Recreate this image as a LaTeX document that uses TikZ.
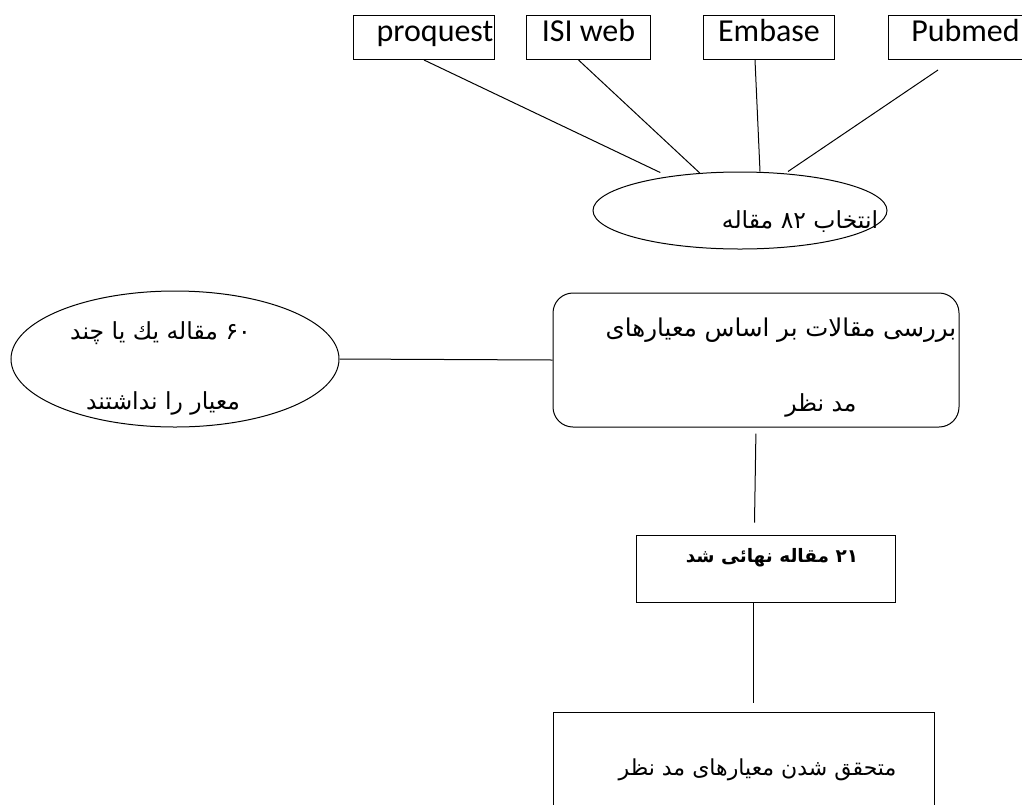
\documentclass[tikz,border=0pt]{standalone}
\usepackage{fontspec}
\setmainfont{Carlito}
\newfontfamily\fa[Script=Arabic]{DejaVu Sans}
\TeXXeTstate=1
\usetikzlibrary{shapes.geometric,positioning,calc}

\tikzset{
  dbbox/.style={draw, rectangle, line width=1pt, minimum height=44pt, inner xsep=0pt,
    text height=22pt, text depth=14pt, font=\fontsize{32}{38}\selectfont},
  oval/.style={draw, ellipse, line width=1pt, inner sep=0pt},
  flowbox/.style={draw, rectangle, line width=1pt, inner sep=0pt},
  fatext/.style={inner sep=0pt, font=\fa\fontsize{23.5}{28}\selectfont},
  link/.style={line width=1pt},
}

\begin{document}
\begin{tikzpicture}[x=1pt, y=-1pt]
    \useasboundingbox (0,0) rectangle (1022,804);

    % databases
    \node [dbbox, minimum width=141pt, anchor=north west] (pq) at (353,15) {\hspace*{22pt}proquest};
    \node [dbbox, minimum width=124pt, right=31pt of pq] (isi) {ISI web};
    \node [dbbox, minimum width=131pt, right=52pt of isi] (emb) {Embase};
    \node [dbbox, minimum width=154pt, right=53pt of emb] (pm) {Pubmed};

    % selection
    \node [oval, minimum width=294pt, minimum height=77pt] (select) at (740,210.5) {};
    \node [fatext] (selecttxt) at (800,222) {\beginR انتخاب ۸۲ مقاله\endR};

    % review
    \node [flowbox, rounded corners=20pt, minimum width=406pt, minimum height=134pt] (review) at (756,360) {};
    \node [fatext, font=\fa\fontsize{24.5}{28}\selectfont] (reviewtxt1) at (781,330) {\beginR بررسی مقالات بر اساس معیارهای\endR};
    \node [fatext] (reviewtxt2) at (821,405) {\beginR مد نظر\endR};

    % rejected
    \node [oval, minimum width=328pt, minimum height=136pt] (reject) at (175,359) {};
    \node [fatext] (rejecttxt1) at (160.5,333) {\beginR ۶۰ مقاله یك یا چند\endR};
    \node [fatext] (rejecttxt2) at (163,403) {\beginR معیار را نداشتند\endR};

    % final
    \node [flowbox, minimum width=259pt, minimum height=67pt] (final) at (765.5,568.5) {};
    \node [fatext, font=\fa\bfseries\fontsize{18.5}{24}\selectfont] (finaltxt) at (772,558) {\beginR ۲۱ مقاله نهائی شد\endR};

    \node [flowbox, minimum width=381pt, minimum height=118pt] (verify) at (743.5,771) {};
    \node [fatext, font=\fa\fontsize{22}{26}\selectfont] (verifytxt) at (757.5,770) {\beginR متحقق شدن معیارهای مد نظر\endR};

    % connectors
    \draw [link, shorten >=9pt] (pq.south) -- (select);
    \draw [link] ([xshift=-10pt]isi.south) -- (select);
    \draw [link] ([xshift=-14pt]emb.south) -- ([xshift=20pt]select.north);
    \draw [link] ([shift={(50pt,-10pt)}]pm.south west) -- ([xshift=48pt]select.north);
    \draw [link] (reject.east) -- (review.west);
    \draw [link, shorten <=6pt] (review.south) -- ([xshift=-11pt,yshift=12pt]final.north);
    \draw [link] ([xshift=-12pt]final.south) -- ([xshift=10pt,yshift=9pt]verify.north);
\end{tikzpicture}
\end{document}
